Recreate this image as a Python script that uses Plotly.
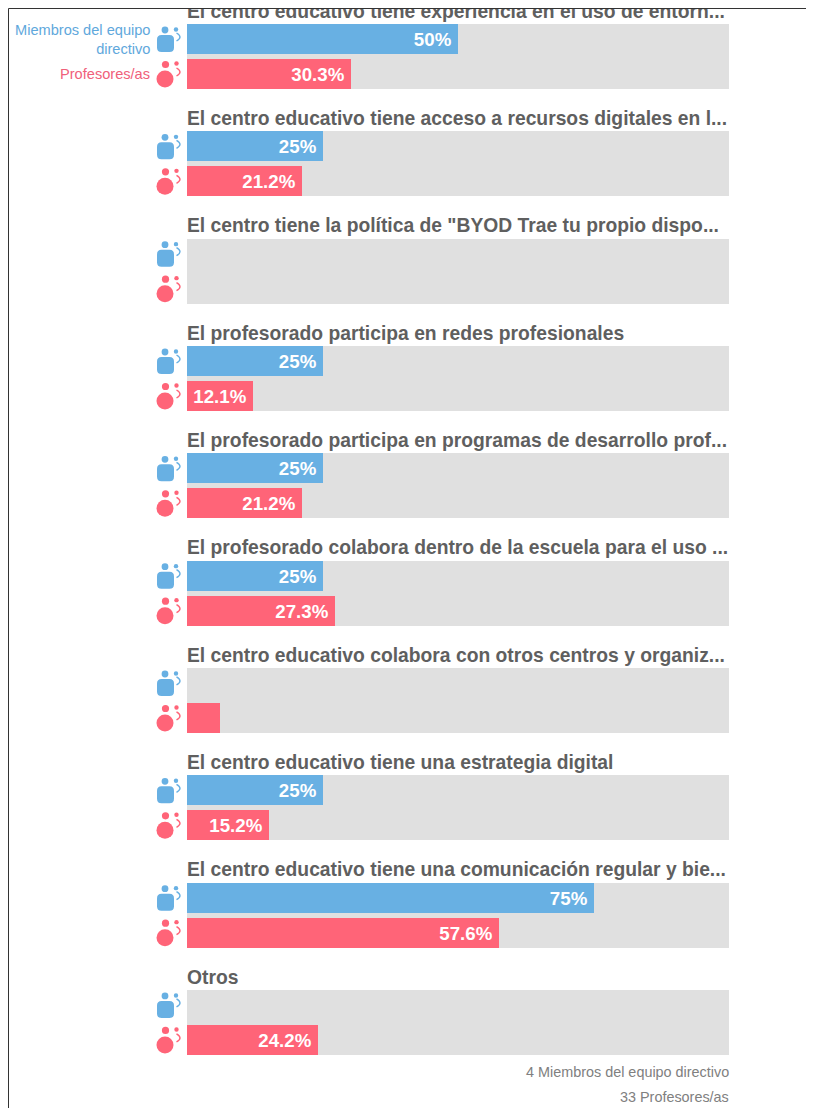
import plotly.graph_objects as go

titles = [
    "El centro educativo tiene experiencia en el uso de entorn...",
    "El centro educativo tiene acceso a recursos digitales en l...",
    "El centro tiene la política de \"BYOD Trae tu propio dispo...",
    "El profesorado participa en redes profesionales",
    "El profesorado participa en programas de desarrollo prof...",
    "El profesorado colabora dentro de la escuela para el uso ...",
    "El centro educativo colabora con otros centros y organiz...",
    "El centro educativo tiene una estrategia digital",
    "El centro educativo tiene una comunicación regular y bie...",
    "Otros",
]
directivo = [50, 25, 0, 25, 25, 25, 0, 25, 75, 0]
profesores = [30.3, 21.2, 0, 12.1, 21.2, 27.3, 6.1, 15.2, 57.6, 24.2]
legend_names = ["Miembros del equipo<br>directivo", "Profesores/as"]
footer = ["4 Miembros del equipo directivo", "33 Profesores/as"]

BLUE, RED, GREY = "#68B0E3", "#FF6478", "#E0E0E0"
OX, OY = 8, 8          # page margin of the browser
RIGHT_EDGE = 822       # figure runs past the window so the frame line reaches its edge
W, H = RIGHT_EDGE - OX, 1108 - OY
L, R, T = 187, 729, 9  # plot area, in page pixels
PERIOD, C0 = 107.33, 56.5
BOT = 1108

OFF = 17.5 / PERIOD
rows = list(range(len(titles)))


def label(v):
    return f"{v:g}%\u2009" if v >= 10 else ""


def sx(px):
    return (px - L) / (R - L)


def sy(px):
    return (BOT - px) / (BOT - T)


fig = go.Figure()
fig.add_bar(y=rows, x=[100] * len(rows), orientation="h", width=65 / PERIOD,
            marker=dict(color=GREY, line_width=0), hoverinfo="skip", showlegend=False)
for vals, color, sign, name in ((directivo, BLUE, -1, "Miembros del equipo directivo"),
                                (profesores, RED, 1, "Profesores/as")):
    fig.add_bar(y=[r + sign * OFF for r in rows], x=vals, orientation="h", width=30 / PERIOD,
                marker=dict(color=color, line_width=0), name=name, showlegend=False,
                text=[label(v) for v in vals], textposition="inside", insidetextanchor="end",
                textangle=0, constraintext="none",
                textfont=dict(family="Liberation Sans", size=18.7, color="white", weight="bold"))
fig.add_scatter(x=[0] * len(rows), y=[r - 43.5 / PERIOD for r in rows], mode="text", text=titles,
                textposition="middle right", cliponaxis=True, hoverinfo="skip", showlegend=False,
                textfont=dict(family="Liberation Sans", size=19.3, color="#5F5F5F", weight="bold"))

shapes = [
    dict(type="line", xref="paper", yref="paper", x0=sx(8.5), x1=sx(RIGHT_EDGE), y0=sy(8.5), y1=sy(8.5),
         line=dict(color="#333333", width=1)),
    dict(type="line", xref="paper", yref="paper", x0=sx(8.5), x1=sx(8.5), y0=sy(8.5), y1=sy(1108),
         line=dict(color="#333333", width=1)),
]


def circle(cx, cy, r, color):
    return dict(type="circle", xref="paper", yref="paper", x0=sx(cx - r), x1=sx(cx + r),
                y0=sy(cy + r), y1=sy(cy - r), fillcolor=color, line_width=0)


def arc(cy, color):
    d = f"M {sx(176.5)} {sy(cy - 6)} Q {sx(183.5)} {sy(cy - 2)} {sx(176.5)} {sy(cy + 2)}"
    return dict(type="path", xref="paper", yref="paper", path=d, line=dict(color=color, width=1.4))


def round_rect(x0, y0, x1, y1, r, color):
    X, Y = sx, sy
    d = (f"M {X(x0 + r)} {Y(y0)} L {X(x1 - r)} {Y(y0)} Q {X(x1)} {Y(y0)} {X(x1)} {Y(y0 + r)} "
         f"L {X(x1)} {Y(y1 - r)} Q {X(x1)} {Y(y1)} {X(x1 - r)} {Y(y1)} L {X(x0 + r)} {Y(y1)} "
         f"Q {X(x0)} {Y(y1)} {X(x0)} {Y(y1 - r)} L {X(x0)} {Y(y0 + r)} Q {X(x0)} {Y(y0)} {X(x0 + r)} {Y(y0)} Z")
    return dict(type="path", xref="paper", yref="paper", path=d, fillcolor=color, line_width=0)


for i in rows:
    c = C0 + i * PERIOD
    b, p = c - 17.5, c + 17.5
    shapes += [circle(165, b - 9, 3.4, BLUE), circle(176, b - 9.5, 2.2, BLUE),
               round_rect(157, b - 4, 174, b + 13, 4.5, BLUE), arc(b, BLUE)]
    shapes += [circle(165.5, p - 9.5, 3.6, RED), circle(176.5, p - 10.5, 2.2, RED),
               circle(165, p + 5, 8.5, RED), arc(p, RED)]

annotations = [
    dict(x=sx(152), y=sy(39), xref="paper", yref="paper", xanchor="right", yanchor="middle", align="right",
         text=legend_names[0], showarrow=False, font=dict(family="Liberation Sans", size=14.6, color="#5FA8DC")),
    dict(x=sx(152), y=sy(74), xref="paper", yref="paper", xanchor="right", yanchor="middle", align="right",
         text=legend_names[1], showarrow=False, font=dict(family="Liberation Sans", size=14.6, color="#F0607A")),
    dict(x=sx(731), y=sy(1072), xref="paper", yref="paper", xanchor="right", yanchor="middle",
         text=footer[0], showarrow=False, font=dict(family="Liberation Sans", size=14.4, color="#808080")),
    dict(x=sx(731), y=sy(1097), xref="paper", yref="paper", xanchor="right", yanchor="middle",
         text=footer[1], showarrow=False, font=dict(family="Liberation Sans", size=14.4, color="#808080")),
]

fig.update_layout(
    width=W, height=H, autosize=False, barmode="overlay", bargap=0,
    paper_bgcolor="white", plot_bgcolor="white", showlegend=False,
    margin=dict(l=L - OX, r=RIGHT_EDGE - R, t=T - OY, b=0, pad=0),
    xaxis=dict(range=[0, 100], visible=False, fixedrange=True),
    yaxis=dict(range=[(BOT - C0) / PERIOD, (T - C0) / PERIOD], visible=False, fixedrange=True),
    shapes=shapes, annotations=annotations,
)
fig.write_html("out.html", config={"displayModeBar": False})
